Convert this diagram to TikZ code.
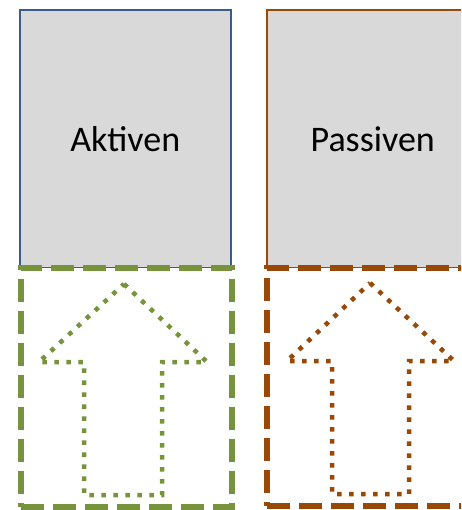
\documentclass[tikz,border=0pt]{standalone}
\usepackage{fontspec}
\newfontfamily\boxfont{Carlito}
\usetikzlibrary{positioning}
\definecolor{aktivblue}{HTML}{385D8A}
\definecolor{passivbrown}{HTML}{984807}
\definecolor{olivegreen}{HTML}{77933C}
\definecolor{boxgray}{HTML}{D9D9D9}
\tikzset{
  bilanz/.style={draw, fill=boxgray, line width=2pt, minimum width=211.5pt, minimum height=257.5pt, inner sep=0pt, font=\boxfont\fontsize{36}{43}\selectfont},
  zuwachs/.style={draw, fill=white, line width=6pt, dash pattern=on 23pt off 9pt, minimum width=211.6pt, minimum height=238.4pt, inner sep=0pt},
  pfeil/.style={line width=4.5pt, dash pattern=on 4.5pt off 7.5pt, line join=miter}
}
\begin{document}
\begin{tikzpicture}[x=1pt,y=-1pt]
  \useasboundingbox (0,0) rectangle (461,510);
  \clip (0,0) rectangle (461,510);
      \node [bilanz, draw=aktivblue] (aktiv) at (125.25,139.25) {Aktiven};
      \node [bilanz, draw=passivbrown] (passiv) at (372.75,139.25) {Passiven};

      \node [zuwachs, draw=olivegreen] (aktivplus) at (126.5,387.5) {};
      \node [zuwachs, draw=passivbrown] (passivplus) at (373.1,386.8) {};

      % dotted arrows
      \draw [olivegreen] [pfeil] (124,284) -- (207,362) -- (162,362) -- (162,495) -- (84,495) -- (84,362) -- (39,362) -- cycle;
      \draw [passivbrown] [pfeil] (370,283) -- (454,361) -- (409,361) -- (409,494) -- (332,494) -- (332,361) -- (287,361) -- cycle;
\end{tikzpicture}
\end{document}
